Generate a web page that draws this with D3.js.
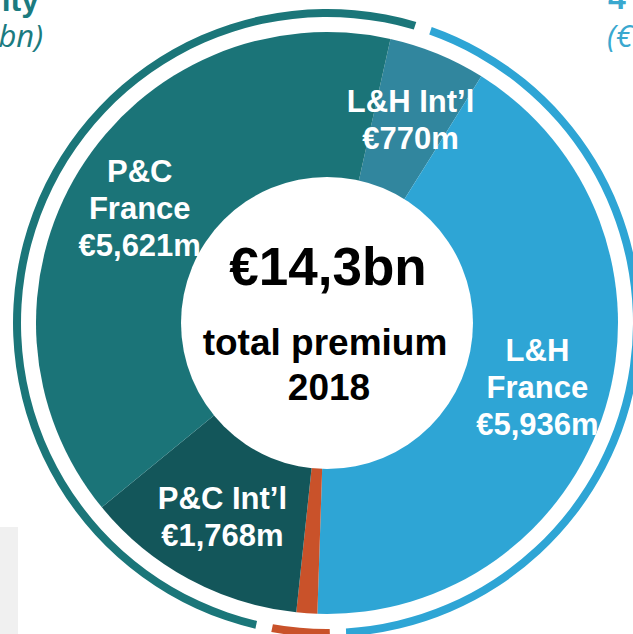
<!DOCTYPE html>
<html>
<head>
<meta charset="utf-8">
<script src="https://cdn.jsdelivr.net/npm/d3@7"></script>
<style>
  html, body { margin: 0; padding: 0; background: #fff; }
  svg { display: block; font-family: 'Liberation Sans', Arial, sans-serif; }
</style>
</head>
<body>
<svg id="chart"></svg>
<script>
// premium split 2018 (EUR m), clockwise from the top
let segments = ['L&H Int\u2019l', 'L&H France', 'Other', 'P&C Int\u2019l', 'P&C France']
let premiums = [770, 5936, 165, 1768, 5621]
let segmentColors = ['#31869e', '#2ea5d5', '#c9522a', '#13565a', '#1b7478']
let labelLines = [
    ['L&H Int\u2019l', '\u20ac770m'],
    ['L&H', 'France', '\u20ac5,936m'],
    [],
    ['P&C Int\u2019l', '\u20ac1,768m'],
    ['P&C', 'France', '\u20ac5,621m']
]

// outer ring: business lines
let ringGroups = ['L&H', 'Other', 'P&C']
let ringSpans = [161, 11, 188]
let ringColors = ['#2ea5d5', '#c9522a', '#1b7679']

let centerLines = ['\u20ac14,3bn', 'total premium', '2018']

let width = 633
let height = 634
let cx = 327
let cy = 323
let outerR = 291
let innerR = 146
let labelR = 220
let lineHeight = 37

let deg = Math.PI / 180

let svg = d3.select('#chart')
    .attr('width', width)
    .attr('height', height)

// grey panel bottom left
svg.append('rect')
    .attr('x', 0).attr('y', 527)
    .attr('width', 18).attr('height', height - 527)
    .attr('fill', '#f0f0f0')

// header fragments cut by the crop
svg.append('text')
    .attr('x', 39).attr('y', 11)
    .attr('text-anchor', 'end')
    .attr('font-size', 32).attr('font-weight', 'bold')
    .attr('fill', '#1b7b80')
    .text('ity')
svg.append('text')
    .attr('x', 43).attr('y', 47)
    .attr('text-anchor', 'end')
    .attr('font-size', 31).attr('font-style', 'italic')
    .attr('font-family', "'Open Sans', sans-serif")
    .attr('fill', '#1b7b80')
    .text('(\u20ac7,4bn)')
svg.append('text')
    .attr('x', 608).attr('y', 9)
    .attr('font-size', 32).attr('font-weight', 'bold')
    .attr('fill', '#3aa8cf')
    .text('4')
svg.append('text')
    .attr('x', 607).attr('y', 47)
    .attr('font-size', 31).attr('font-style', 'italic')
    .attr('font-family', "'Open Sans', sans-serif")
    .attr('fill', '#3aa8cf')
    .text('(\u20ac6,7bn)')

let g = svg.append('g')
    .attr('transform', 'translate(' + cx + ',' + cy + ')')

let pie = d3.pie()
    .sort(null)
    .value((d) => d.value)
    .startAngle(12.6 * deg)
    .endAngle(12.6 * deg + 2 * Math.PI)

let slices = pie(segments.map((name, i) => ({ name: name, value: premiums[i], color: segmentColors[i], lines: labelLines[i] })))

let arc = d3.arc()
    .innerRadius(0)
    .outerRadius(outerR)

g.selectAll('path.slice')
    .data(slices)
    .enter()
    .append('path')
    .attr('class', 'slice')
    .attr('d', arc)
    .attr('fill', (d) => d.data.color)

// ring
let ringPie = d3.pie()
    .sort(null)
    .value((d) => d.value)
    .startAngle(18 * deg)
    .endAngle(18 * deg + 2 * Math.PI)
    .padAngle(3 * deg)

let ringArc = d3.arc()
    .innerRadius(306)
    .outerRadius(314)
    .padRadius(310)

g.selectAll('path.ring')
    .data(ringPie(ringGroups.map((name, i) => ({ name: name, value: ringSpans[i], color: ringColors[i] }))))
    .enter()
    .append('path')
    .attr('class', 'ring')
    .attr('d', ringArc)
    .attr('fill', (d) => d.data.color)

// labels, clipped to the donut
g.append('clipPath')
    .attr('id', 'donut-clip')
    .append('circle')
    .attr('r', outerR)

let labelArc = d3.arc()
    .innerRadius(labelR)
    .outerRadius(labelR)

let labels = g.append('g')
    .attr('clip-path', 'url(#donut-clip)')

slices.forEach((d) => {
    let c = labelArc.centroid(d)
    let n = d.data.lines.length
    let t = labels.append('text')
        .attr('text-anchor', 'middle')
        .attr('font-size', 31)
        .attr('font-weight', 'bold')
        .attr('fill', '#fff')
    d.data.lines.forEach((line, i) => {
        t.append('tspan')
            .attr('x', c[0])
            .attr('y', c[1] + (i - (n - 1) / 2) * lineHeight + 11)
            .text(line)
    })
})

// hole
g.append('circle')
    .attr('r', innerR)
    .attr('fill', '#fff')

g.append('text')
    .attr('x', 1).attr('y', -38)
    .attr('text-anchor', 'middle')
    .attr('font-size', 53).attr('font-weight', 'bold')
    .attr('fill', '#000')
    .text(centerLines[0])
g.append('text')
    .attr('x', -2).attr('y', 32)
    .attr('text-anchor', 'middle')
    .attr('font-size', 37).attr('font-weight', 'bold')
    .attr('fill', '#000')
    .text(centerLines[1])
g.append('text')
    .attr('x', 2).attr('y', 77)
    .attr('text-anchor', 'middle')
    .attr('font-size', 37).attr('font-weight', 'bold')
    .attr('fill', '#000')
    .text(centerLines[2])
</script>
</body>
</html>
